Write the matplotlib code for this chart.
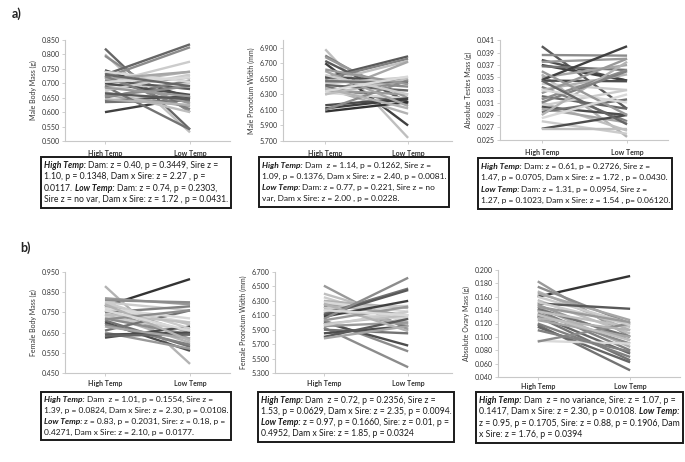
import matplotlib
matplotlib.use('Agg')
import matplotlib.pyplot as plt
from matplotlib.patches import Rectangle

W, H = 685, 462
plt.rcParams['font.family'] = ['Lato', 'DejaVu Sans']

temps = ['High Temp', 'Low Temp']

# ---- data: (high temp, low temp) per family line ----
male_mass_high = [0.820, 0.800, 0.795, 0.745, 0.730, 0.720, 0.700, 0.600, 0.640, 0.635,
                  0.700, 0.690, 0.680, 0.710, 0.660, 0.650, 0.670, 0.720, 0.690, 0.740,
                  0.700, 0.655, 0.675, 0.715, 0.725, 0.665, 0.645, 0.705, 0.730, 0.685]
male_mass_low = [0.540, 0.530, 0.600, 0.650, 0.835, 0.825, 0.775, 0.650, 0.655, 0.640,
                 0.740, 0.720, 0.700, 0.680, 0.620, 0.710, 0.600, 0.630, 0.540, 0.705,
                 0.660, 0.690, 0.730, 0.740, 0.610, 0.645, 0.625, 0.720, 0.690, 0.655]

male_pron_high = [6.880, 6.800, 6.780, 6.730, 6.700, 6.520, 6.500, 6.460, 6.300, 6.520,
                  6.480, 6.440, 6.400, 6.380, 6.350, 6.320, 6.300, 6.420, 6.160, 6.120,
                  6.080, 6.100, 6.600, 6.550, 6.470, 6.380, 6.620, 6.340]
male_pron_low = [5.740, 6.190, 6.250, 6.200, 5.900, 6.790, 6.760, 6.730, 6.720, 6.480,
                 6.400, 6.520, 6.180, 6.050, 6.300, 6.250, 6.500, 6.350, 6.250, 6.240,
                 6.200, 6.480, 6.150, 6.300, 6.450, 6.120, 6.430, 6.530]

testes_high = [0.0400, 0.0386, 0.0378, 0.0375, 0.0370, 0.0368, 0.0355, 0.0350, 0.0346, 0.0345,
               0.0340, 0.0335, 0.0330, 0.0325, 0.0320, 0.0315, 0.0310, 0.0305, 0.0303, 0.0300,
               0.0295, 0.0290, 0.0280, 0.0268, 0.0268, 0.0310, 0.0330, 0.0360, 0.0345, 0.0285]
testes_low = [0.0300, 0.0385, 0.0345, 0.0380, 0.0345, 0.0362, 0.0255, 0.0370, 0.0400, 0.0344,
              0.0330, 0.0280, 0.0355, 0.0380, 0.0300, 0.0362, 0.0265, 0.0330, 0.0290, 0.0278,
              0.0315, 0.0375, 0.0260, 0.0290, 0.0268, 0.0360, 0.0310, 0.0290, 0.0275, 0.0323]

female_mass_high = [0.780, 0.880, 0.820, 0.810, 0.800, 0.790, 0.780, 0.770, 0.760, 0.750,
                    0.740, 0.730, 0.720, 0.710, 0.700, 0.690, 0.660, 0.650, 0.640, 0.625,
                    0.635, 0.680, 0.800, 0.770, 0.790, 0.740, 0.715, 0.760]
female_mass_low = [0.915, 0.495, 0.790, 0.800, 0.760, 0.690, 0.650, 0.700, 0.620, 0.780,
                   0.600, 0.660, 0.640, 0.580, 0.560, 0.590, 0.760, 0.570, 0.650, 0.680,
                   0.640, 0.620, 0.670, 0.720, 0.610, 0.700, 0.760, 0.660]

female_pron_high = [6.510, 6.400, 6.350, 6.300, 6.280, 6.250, 6.220, 6.200, 6.180, 6.150,
                    6.120, 6.100, 6.080, 6.050, 6.030, 6.000, 5.980, 5.950, 5.930, 5.900,
                    5.850, 5.800, 5.780, 5.960, 6.260, 6.030, 6.170]
female_pron_low = [5.900, 6.050, 6.000, 6.200, 6.150, 6.100, 5.950, 6.230, 5.980, 6.050,
                   6.470, 6.450, 6.300, 6.620, 5.600, 5.680, 6.100, 6.000, 5.380, 5.850,
                   5.950, 6.050, 5.950, 6.150, 5.880, 6.220, 6.100]

ovary_high = [0.160, 0.183, 0.175, 0.168, 0.165, 0.160, 0.155, 0.150, 0.148, 0.145,
              0.142, 0.140, 0.138, 0.135, 0.132, 0.130, 0.125, 0.120, 0.118, 0.115,
              0.094, 0.093, 0.128, 0.152, 0.145, 0.110, 0.133]
ovary_low = [0.191, 0.100, 0.120, 0.110, 0.125, 0.120, 0.105, 0.142, 0.095, 0.085,
             0.100, 0.080, 0.115, 0.090, 0.075, 0.065, 0.100, 0.070, 0.050, 0.062,
             0.090, 0.120, 0.110, 0.118, 0.122, 0.078, 0.095]

# grey shade of each family line (0 = black, 1 = white)
shades_a1 = [0.40, 0.75, 0.55, 0.25, 0.40, 0.55, 0.80, 0.25, 0.30, 0.45,
             0.70, 0.60, 0.80, 0.35, 0.65, 0.50, 0.75, 0.60, 0.45, 0.85,
             0.30, 0.55, 0.80, 0.65, 0.50, 0.35, 0.70, 0.85, 0.40, 0.60]
shades_a2 = [0.75, 0.50, 0.60, 0.35, 0.25, 0.35, 0.50, 0.75, 0.65, 0.30,
             0.55, 0.80, 0.45, 0.70, 0.60, 0.85, 0.75, 0.40, 0.30, 0.25,
             0.20, 0.55, 0.65, 0.80, 0.45, 0.70, 0.60, 0.85]
shades_a3 = [0.35, 0.55, 0.30, 0.60, 0.25, 0.45, 0.70, 0.65, 0.25, 0.30,
             0.80, 0.50, 0.70, 0.60, 0.40, 0.55, 0.75, 0.80, 0.30, 0.65,
             0.45, 0.70, 0.80, 0.30, 0.75, 0.50, 0.85, 0.60, 0.40, 0.85]
shades_b1 = [0.20, 0.70, 0.60, 0.55, 0.80, 0.75, 0.65, 0.85, 0.60, 0.50,
             0.70, 0.80, 0.55, 0.45, 0.30, 0.50, 0.45, 0.60, 0.30, 0.30,
             0.40, 0.65, 0.80, 0.85, 0.70, 0.75, 0.55, 0.85]
shades_b2 = [0.60, 0.75, 0.80, 0.70, 0.85, 0.65, 0.55, 0.80, 0.70, 0.85,
             0.45, 0.35, 0.25, 0.55, 0.55, 0.30, 0.75, 0.60, 0.55, 0.45,
             0.30, 0.35, 0.65, 0.80, 0.70, 0.60, 0.85]
shades_b3 = [0.20, 0.60, 0.55, 0.70, 0.65, 0.80, 0.75, 0.35, 0.60, 0.70,
             0.45, 0.50, 0.75, 0.55, 0.40, 0.45, 0.65, 0.50, 0.45, 0.40,
             0.85, 0.55, 0.70, 0.80, 0.60, 0.50, 0.75]

box_a1 = [[("High Temp:", True), ("Dam: z = 0.40, p = 0.3449, Sire z =", False)],
          [("1.10, p = 0.1348, Dam x Sire: z = 2.27 , p =", False)],
          [("0.0117.", False), ("Low Temp:", True), ("Dam: z = 0.74, p = 0.2303,", False)],
          [("Sire z = no var, Dam x Sire: z = 1.72 , p = 0.0431.", False)]]
box_a2 = [[("High Temp:", True), ("Dam  z = 1.14, p = 0.1262, Sire z =", False)],
          [("1.09, p = 0.1376, Dam x Sire: z = 2.40, p = 0.0081.", False)],
          [("Low Temp:", True), ("Dam: z = 0.77, p = 0.221, Sire z = no", False)],
          [("var, Dam x Sire: z = 2.00 , p = 0.0228.", False)]]
box_a3 = [[("High Temp:", True), ("Dam: z = 0.61, p = 0.2726, Sire z =", False)],
          [("1.47, p = 0.0705, Dam x Sire: z = 1.72 , p = 0.0430.", False)],
          [("Low Temp:", True), ("Dam: z = 1.31, p = 0.0954, Sire z =", False)],
          [("1.27, p = 0.1023, Dam x Sire: z = 1.54 , p= 0.06120.", False)]]
box_b1 = [[("High Temp:", True), ("Dam  z = 1.01, p = 0.1554, Sire z =", False)],
          [("1.39, p = 0.0824, Dam x Sire: z = 2.30, p = 0.0108.", False)],
          [("Low Temp:", True), ("z = 0.83, p = 0.2031, Sire: z = 0.18, p =", False)],
          [("0.4271, Dam x Sire: z = 2.10, p = 0.0177.", False)]]
box_b2 = [[("High Temp:", True), ("Dam  z = 0.72, p = 0.2356, Sire z =", False)],
          [("1.53, p = 0.0629, Dam x Sire: z = 2.35, p = 0.0094.", False)],
          [("Low Temp:", True), ("z = 0.97, p = 0.1660, Sire: z = 0.01, p =", False)],
          [("0.4952, Dam x Sire: z = 1.85, p = 0.0324", False)]]
box_b3 = [[("High Temp:", True), ("Dam  z = no variance, Sire: z = 1.07, p =", False)],
          [("0.1417, Dam x Sire: z = 2.30, p = 0.0108.", False), ("Low Temp:", True)],
          [("z = 0.95, p = 0.1705, Sire: z = 0.88, p = 0.1906, Dam", False)],
          [("x Sire: z = 1.76, p = 0.0394", False)]]

panels = [
    # axes px rect, xlim, ylim, yticks (start, stop, step, fmt), ylabel, data, shades, box rect, box text
    dict(rect=(65, 40, 230, 141), xlim=(0.53, 2.47), ylim=(0.5, 0.85), ticks=(0.5, 0.85, 0.05, '{:.3f}'),
         label='Male Body Mass (g)', hi=male_mass_high, lo=male_mass_low, sh=shades_a1,
         box=(41, 157, 231, 208), text=box_a1, pad=4.5),
    dict(rect=(283, 40, 452, 141), xlim=(0.49, 2.53), ylim=(5.7, 7.0), ticks=(5.7, 6.9, 0.2, '{:.3f}'),
         label='Male Pronotum Width (mm)', hi=male_pron_high, lo=male_pron_low, sh=shades_a2,
         box=(259, 157, 449, 207), text=box_a2, pad=4.5),
    dict(rect=(500, 40, 668, 140), xlim=(0.51, 2.48), ylim=(0.025, 0.041), ticks=(0.025, 0.041, 0.002, '{:.3f}'),
         label='Absolute Testes Mass (g)', hi=testes_high, lo=testes_low, sh=shades_a3,
         box=(478, 158, 672, 209), text=box_a3, pad=4.5),
    dict(rect=(65, 272, 230, 373), xlim=(0.53, 2.47), ylim=(0.45, 0.95), ticks=(0.45, 0.95, 0.1, '{:.3f}'),
         label='Female Body Mass (g)', hi=female_mass_high, lo=female_mass_low, sh=shades_b1,
         box=(41, 392, 231, 440), text=box_b1, pad=3),
    dict(rect=(275, 272, 452, 373), xlim=(0.42, 2.52), ylim=(5.3, 6.7), ticks=(5.3, 6.7, 0.2, '{:.3f}'),
         label='Female Pronotum Width (mm)', hi=female_pron_high, lo=female_pron_low, sh=shades_b2,
         box=(258, 392, 454, 442), text=box_b2, pad=3),
    dict(rect=(498, 270, 680, 377), xlim=(0.57, 2.54), ylim=(0.04, 0.2), ticks=(0.04, 0.2, 0.02, '{:.3f}'),
         label='Absolute Ovary Mass (g)', hi=ovary_high, lo=ovary_low, sh=shades_b3,
         box=(476, 392, 683, 443), text=box_b3, pad=2),
]

fig = plt.figure(figsize=(W / 100, H / 100), dpi=100)
renderer = fig.canvas.get_renderer()


def seg_width(s, bold, size):
    t = fig.text(0, 0, s, fontsize=size, fontweight='bold' if bold else 'normal',
                 fontstyle='italic' if bold else 'normal')
    w = t.get_window_extent(renderer).width
    t.remove()
    return w


def rich_box(x0, y0, x1, y1, lines, size=6.6):
    fig.patches.append(Rectangle((x0 / W, 1 - y1 / H), (x1 - x0) / W, (y1 - y0) / H,
                                 transform=fig.transFigure, fill=False, ec='#1a1a1a', lw=1.4))
    # shrink font so the widest line fits inside the box
    widest = 0
    for segs in lines:
        w = sum(seg_width(s, b, size) for s, b in segs) + size * 100 / 72 * 0.24 * (len(segs) - 1)
        widest = max(widest, w)
    avail = (x1 - x0) - 6
    if widest > avail:
        size = size * avail / widest
    space = size * 100 / 72 * 0.24
    lh = (y1 - y0 - 5) / len(lines)
    for i, segs in enumerate(lines):
        x = x0 + 3
        y = y0 + 2.5 + lh * (i + 0.5)
        for j, (s, bold) in enumerate(segs):
            if j > 0:
                x += space
            t = fig.text(x / W, 1 - y / H, s, fontsize=size, va='center', ha='left', color='#1a1a1a',
                         fontweight='bold' if bold else 'normal',
                         fontstyle='italic' if bold else 'normal')
            x += t.get_window_extent(renderer).width


for p in panels:
    x0, y0, x1, y1 = p['rect']
    ax = fig.add_axes([x0 / W, 1 - y1 / H, (x1 - x0) / W, (y1 - y0) / H])
    for hi, lo, g in zip(p['hi'], p['lo'], p['sh']):
        ax.plot([1, 2], [hi, lo], color=str(g), lw=1.7, solid_capstyle='butt')
    ax.set_xlim(*p['xlim'])
    ax.set_ylim(*p['ylim'])
    start, stop, step, fmt = p['ticks']
    n = int(round((stop - start) / step)) + 1
    yt = [start + k * step for k in range(n)]
    ax.set_yticks(yt)
    ax.set_yticklabels([fmt.format(v) for v in yt])
    ax.set_xticks([1, 2])
    ax.set_xticklabels(temps, fontweight='bold')
    for s in ['top', 'right']:
        ax.spines[s].set_visible(False)
    for s in ['left', 'bottom']:
        ax.spines[s].set_color('#c8c8c8')
        ax.spines[s].set_linewidth(0.8)
    ax.tick_params(axis='y', length=2, width=0.6, color='#c8c8c8', labelsize=5, labelcolor='#333333', pad=2)
    ax.tick_params(axis='x', length=2, width=0.6, color='#c8c8c8', labelsize=5, labelcolor='#333333',
                   pad=p['pad'])
    ax.set_ylabel(p['label'], fontsize=5, color='#333333', labelpad=3)
    rich_box(*p['box'], p['text'])

fig.text(12 / W, 1 - 14 / H, 'a)', fontsize=9, fontweight='bold', color='#222222', va='center')
fig.text(20 / W, 1 - 248 / H, 'b)', fontsize=9, fontweight='bold', color='#222222', va='center')

fig.savefig('out.png', dpi=100)
